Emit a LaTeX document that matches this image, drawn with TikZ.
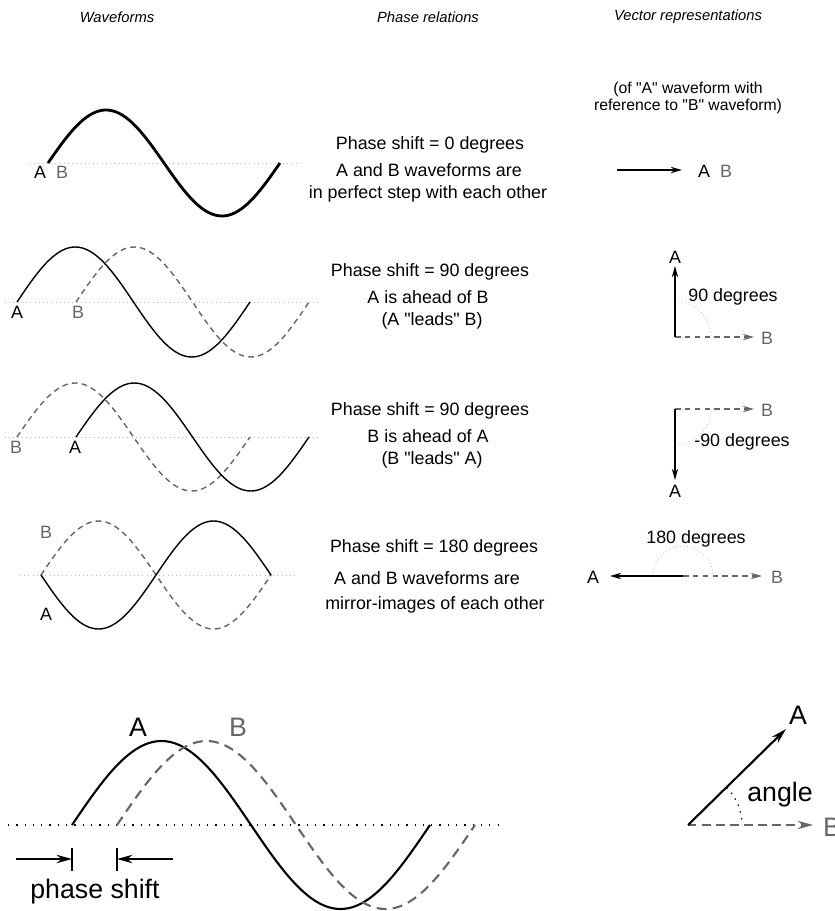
\documentclass[tikz,border=0pt]{standalone}
\usepackage{fontspec}
\setmainfont{Liberation Sans}
\usetikzlibrary{arrows.meta}
\definecolor{bgray}{HTML}{666666}
\definecolor{axgray}{HTML}{BBBBBB}
% one period of a sine: [style] {x start}{axis y}{period}{amplitude}
\newcommand{\sinewave}[5][]{\draw[#1] plot[domain=0:360,samples=73,smooth] ({#2+\x/360*#4},{#3-#5*sin(\x)});}
\newcommand{\q}{\textquotedbl}

\begin{document}
\begin{tikzpicture}[x=0.025cm, y=-0.025cm,
  wave/.style={line width=1pt, line join=round},
  bwave/.style={line width=1pt, bgray, dash pattern=on 4pt off 3pt},
  axis/.style={axgray, line width=0.6pt, dash pattern=on 0.6pt off 2.4pt},
  arcdot/.style={axgray, line width=0.6pt, dash pattern=on 0.6pt off 2pt},
  txt/.style={inner sep=0pt, font=\fontsize{12.7}{15}\selectfont},
  btxt/.style={txt, text=bgray},
  head/.style={inner sep=0pt, font=\fontsize{10.5}{12}\selectfont\itshape},
  big/.style={inner sep=0pt, font=\fontsize{19}{22}\selectfont},
  vec/.style={line width=1pt, -{Stealth[length=8pt,width=4.5pt]}},
  bvec/.style={vec, bgray, dash pattern=on 4pt off 3pt}]
\useasboundingbox (0,0) rectangle (834,911);

% column heads
\node[head] (hwave) at (117,17) {Waveforms};
\node[head] (hphase) at (428,17) {Phase relations};
\node[head] (hvec) at (688,17) {Vector representations};
\node[txt, font=\fontsize{11.2}{13}\selectfont] (hnote1) at (688,89) {(of \q A\q{} waveform with};
\node[txt, font=\fontsize{11.2}{13}\selectfont] (hnote2) at (688,106) {reference to \q B\q{} waveform)};

% row 1: in phase
\draw[axis] (30,163) -- (300,163);
\sinewave[wave, line width=2pt]{48}{163}{232}{53}
\node[txt] (a1) at (40,172) {A};
\node[btxt] (b1) at (62,172) {B};
\node[txt] (t1a) at (430,145) {Phase shift = 0 degrees};
\node[txt] (t1b) at (429,170) {A and B waveforms are};
\node[txt] (t1c) at (428,194) {in perfect step with each other};
\coordinate (o1) at (617,170);
\coordinate (e1) at (682,170);
\draw[vec, line width=1.6pt] (o1) -- (e1);
\node[txt] (va1) at (704,171) {A};
\node[btxt] (vb1) at (726,171) {B};

% row 2: A leads B
\draw[axis] (5,302) -- (320,302);
\sinewave[wave]{17}{302}{233}{55}
\sinewave[bwave]{76}{302}{233}{55}
\node[txt] (a2) at (17,312) {A};
\node[btxt] (b2) at (78,312) {B};
\node[txt] (t2a) at (430,272) {Phase shift = 90 degrees};
\node[txt] (t2b) at (428,297) {A is ahead of B};
\node[txt] (t2c) at (432,321) {(A \q leads\q{} B)};
\coordinate (o2) at (675,337);
\coordinate (ea2) at (675,266);
\coordinate (eb2) at (754,337);
\draw[arcdot] (o2) ++(0,-36) arc[start angle=-90, end angle=0, radius=36];
\draw[bvec] (o2) -- (eb2);
\draw[vec] (o2) -- (ea2);
\node[txt] (va2) at (675,257) {A};
\node[btxt] (vb2) at (767,338) {B};
\node[txt] (deg2) at (733,297) {90 degrees};

% row 3: B leads A
\draw[axis] (5,437) -- (320,437);
\sinewave[bwave]{17}{437}{233}{54}
\sinewave[wave]{76}{437}{233}{54}
\node[btxt] (b3) at (16,447) {B};
\node[txt] (a3) at (75,447) {A};
\node[txt] (t3a) at (430,411) {Phase shift = 90 degrees};
\node[txt] (t3b) at (428,436) {B is ahead of A};
\node[txt] (t3c) at (432,460) {(B \q leads\q{} A)};
\coordinate (o3) at (675,409);
\coordinate (ea3) at (675,480);
\coordinate (eb3) at (754,409);
\draw[arcdot] (o3) ++(0,36) arc[start angle=90, end angle=0, radius=36];
\draw[bvec] (o3) -- (eb3);
\draw[vec] (o3) -- (ea3);
\node[txt] (va3) at (675,491) {A};
\node[btxt] (vb3) at (767,410) {B};
\node[txt] (deg3) at (742,442) {-90 degrees};

% row 4: 180 degrees apart
\draw[axis] (20,575) -- (295,575);
\sinewave[bwave]{41}{575}{230}{54}
\sinewave[wave]{41}{575}{230}{-54}
\node[btxt] (b4) at (46,532) {B};
\node[txt] (a4) at (46,614) {A};
\node[txt] (t4a) at (434,548) {Phase shift = 180 degrees};
\node[txt] (t4b) at (427,578) {A and B waveforms are};
\node[txt] (t4c) at (435,605) {mirror-images of each other};
\coordinate (o4) at (683,576);
\coordinate (ea4) at (610,576);
\coordinate (eb4) at (762,576);
\draw[arcdot] (o4) ++(-30,0) arc[start angle=180, end angle=360, radius=30];
\draw[bvec] (o4) -- (eb4);
\draw[vec] (o4) -- (ea4);
\node[txt] (va4) at (593,577) {A};
\node[btxt] (vb4) at (777,577) {B};
\node[txt] (deg4) at (696,539) {180 degrees};

% large example
\draw[line width=0.9pt, dash pattern=on 0.9pt off 5pt] (8,825) -- (500,825);
\sinewave[wave, line width=1.5pt]{72}{825}{358}{84}
\sinewave[bwave, line width=1.5pt, dash pattern=on 7pt off 4.5pt]{117}{825}{358}{84}
\node[big] (abig) at (138,727) {A};
\node[big, text=bgray] (bbig) at (238,727) {B};
\coordinate (sa) at (72,848);
\coordinate (sa2) at (72,871);
\coordinate (sb) at (117,848);
\coordinate (sb2) at (117,871);
\coordinate (la) at (16,859);
\coordinate (lb) at (173,859);
\draw[line width=1pt] (sa) -- (sa2);
\draw[line width=1pt] (sb) -- (sb2);
\draw[line width=1pt, -{Stealth[length=11pt,width=6pt]}] (la) -- (sa |- la);
\draw[line width=1pt, -{Stealth[length=11pt,width=6pt]}] (lb) -- (sb |- lb);
\node[big] (shift) at (95,892) {phase shift};

% large vector
\coordinate (ob) at (688,825);
\coordinate (eab) at (786,729);
\coordinate (ebb) at (813,825);
\draw[line width=1pt, dash pattern=on 0.9pt off 4pt] (ob) ++(-44:54) arc[start angle=-44, end angle=0, radius=54];
\draw[bvec, line width=1.5pt, dash pattern=on 6pt off 4pt, -{Stealth[length=11pt,width=6pt]}] (ob) -- (ebb);
\draw[line width=1.5pt, -{Stealth[length=11pt,width=6pt]}] (ob) -- (eab);
\node[big] (avb) at (798,715) {A};
\node[big, text=bgray] (bvb) at (832,827) {B};
\node[big] (ang) at (780,795) {angle};
\end{tikzpicture}
\end{document}
